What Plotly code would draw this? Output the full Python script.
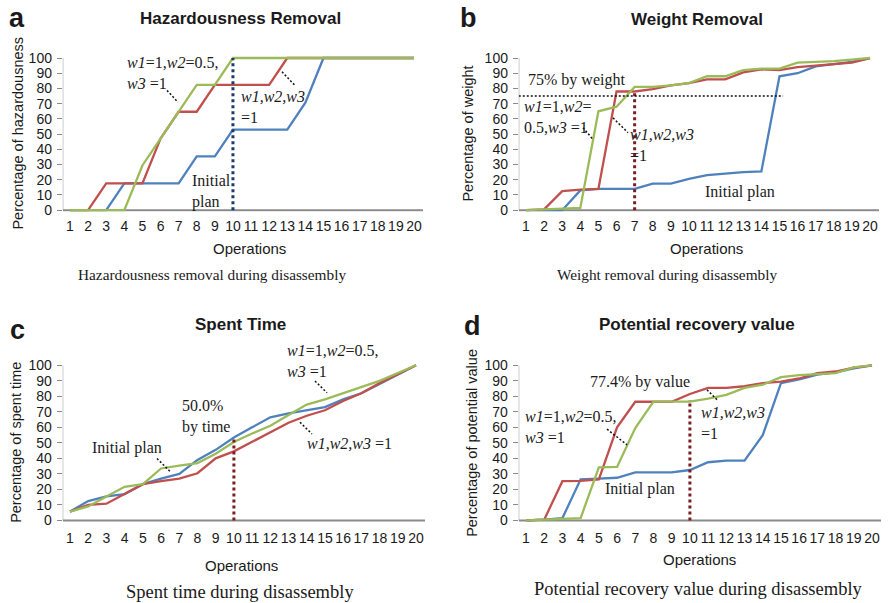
import plotly.graph_objects as go

# ---------------- data ----------------
operations = list(range(1, 21))
tick_text = [str(i) for i in operations]
y_ticks = list(range(0, 101, 10))

series_names = ["Initial plan", "w1,w2,w3 =1", "w1=1,w2=0.5,w3 =1"]

haz_initial = [0, 0, 0, 17.6, 17.6, 17.6, 17.6, 35.3, 35.3, 52.9, 52.9, 52.9, 52.9, 70.6, 100, 100, 100, 100, 100, 100]
haz_equal = [0, 0, 17.6, 17.6, 17.6, 47.1, 64.7, 64.7, 82.4, 82.4, 82.4, 82.4, 100, 100, 100, 100, 100, 100, 100, 100]
haz_weighted = [0, 0, 0, 0, 29.4, 47.1, 64.7, 82.4, 82.4, 100, 100, 100, 100, 100, 100, 100, 100, 100, 100, 100]

wt_initial = [0, 0, 0, 13, 14, 14, 14, 17.5, 17.5, 20.5, 23, 24, 25, 25.5, 88, 90, 94.5, 96, 97.5, 100]
wt_equal = [0, 0.5, 12.5, 13.5, 14, 78, 78, 79.5, 82, 83.5, 86, 86, 90.5, 92.5, 92, 94, 95, 96, 97, 100]
wt_weighted = [0, 0.5, 1, 1.5, 65, 68, 81, 81, 82, 83.5, 88, 88, 92, 93, 93, 97, 97.5, 98, 99, 100]

time_initial = [5.7, 12.5, 15.5, 17, 23.4, 27, 30, 39, 45.5, 53.5, 60, 66.5, 69, 71, 73, 78, 82, 88, 94, 100]
time_equal = [5.7, 10, 10.8, 17, 23.4, 25.3, 27, 30.4, 40, 44.5, 50.6, 57, 63, 67.5, 71, 77, 82, 88.5, 94.5, 100]
time_weighted = [5.7, 9, 15.5, 21.7, 23.4, 33.5, 35.4, 37, 43, 50.6, 56, 61, 68, 74.7, 78, 82, 86.5, 90, 95, 100]

val_initial = [0, 0.5, 1.5, 26.5, 27, 27.5, 31, 31, 31, 32.5, 37.5, 38.5, 38.5, 55, 88.5, 91, 94, 95.5, 98, 100]
val_equal = [0, 0.5, 25.3, 25.5, 26.5, 60, 76.5, 76.5, 76.5, 81.5, 85.5, 85.5, 86.5, 88.5, 89.5, 91.5, 95, 96, 98.5, 100]
val_weighted = [0, 0.5, 1, 1.5, 34.2, 34.5, 59.5, 76.6, 76.6, 76.6, 78.5, 81, 85.4, 87.5, 92.4, 93.7, 94.3, 95, 98.7, 100]

cutoff_ops = [10, 7, 10, 10]
cutoff_tops = [100, 78, 53, 77.4]
weight_threshold = 75
weight_threshold_end = 15.2

panel_titles = ["Hazardousness Removal", "Weight Removal", "Spent Time", "Potential recovery value"]
panel_letters = ["a", "b", "c", "d"]
y_titles = ["Percentage of hazardousness", "Percentage of weight",
            "Percentage of spent time", "Percentage of potential value"]
captions = ["Hazardousness removal during disassembly", "Weight removal during disassembly",
            "Spent time during disassembly", "Potential recovery value during disassembly"]

panel_data = [
    (haz_initial, haz_equal, haz_weighted),
    (wt_initial, wt_equal, wt_weighted),
    (time_initial, time_equal, time_weighted),
    (val_initial, val_equal, val_weighted),
]

# ---------------- layout geometry ----------------
W, H = 894, 603
colors = ["#4F81BD", "#C0504D", "#9BBB59"]
cutoff_colors = ["#1F3A6E", "#7A1E22", "#7A1E22", "#7A1E22"]
SANS = "Liberation Sans, Arial, sans-serif"
SERIF = "Liberation Serif, Times New Roman, serif"

XR = [0.6, 20.5]
YR = [-1, 102]

# pixel geometry: (px of op 1, px of op 20, px of y=0, px of y=100)
geo = [
    (70, 414, 209, 54),
    (526, 870, 209, 54),
    (70, 416, 525, 367),
    (526, 872, 525, 367),
]
xtick_standoff = [4, 4, 6, 6]


def fx(p):
    return p / W


def fy(p):
    return 1 - p / H


fig = go.Figure()
layout = dict(
    width=W, height=H,
    margin=dict(l=0, r=0, t=0, b=0),
    paper_bgcolor="white", plot_bgcolor="white",
    showlegend=False,
    font=dict(family=SANS, size=14, color="#1a1a1a"),
)
shapes = []
annotations = []

for i, (g, series) in enumerate(zip(geo, panel_data)):
    x1, x20, y0, y100 = g
    sx = (x20 - x1) / 19.0
    sy = (y100 - y0) / 100.0
    xl = x1 + (XR[0] - 1) * sx
    xr = x1 + (XR[1] - 1) * sx
    yb = y0 + YR[0] * sy
    yt = y0 + YR[1] * sy
    n = i + 1
    xa = "x" if n == 1 else f"x{n}"
    ya = "y" if n == 1 else f"y{n}"
    xkey = "xaxis" if n == 1 else f"xaxis{n}"
    ykey = "yaxis" if n == 1 else f"yaxis{n}"
    layout[xkey] = dict(
        domain=[fx(xl), fx(xr)], range=XR, anchor=ya,
        tickmode="array", tickvals=operations, ticktext=tick_text,
        showgrid=False, zeroline=False, showline=False, ticks="",
        ticklabelstandoff=xtick_standoff[i],
        tickfont=dict(family=SANS, size=14, color="#1a1a1a"),
    )
    layout[ykey] = dict(
        domain=[fy(yb), fy(yt)], range=YR, anchor=xa,
        tickmode="array", tickvals=y_ticks,
        showgrid=False, zeroline=False, showline=False,
        ticks="outside", ticklen=5, tickcolor="#8a8a8a", tickwidth=1,
        ticklabelstandoff=2,
        tickfont=dict(family=SANS, size=14, color="#1a1a1a"),
    )
    # axis lines
    shapes.append(dict(type="line", xref=xa, yref=ya, x0=XR[0], x1=XR[1], y0=0, y1=0,
                       line=dict(color="#8a8a8a", width=2), layer="below"))
    shapes.append(dict(type="line", xref=xa, yref=ya, x0=XR[0], x1=XR[0], y0=0, y1=100,
                       line=dict(color="#8a8a8a", width=1), layer="below"))
    for s, name, c in zip(series, series_names, colors):
        fig.add_trace(go.Scatter(x=operations, y=s, mode="lines", name=name,
                                 line=dict(color=c, width=2.3), xaxis=xa, yaxis=ya,
                                 hoverinfo="skip"))
    # cutoff vertical dotted line
    shapes.append(dict(type="line", xref=xa, yref=ya, x0=cutoff_ops[i], x1=cutoff_ops[i],
                       y0=0, y1=cutoff_tops[i],
                       line=dict(color=cutoff_colors[i], width=3, dash="dot")))

# threshold line panel b
shapes.append(dict(type="line", xref="x2", yref="y2", x0=XR[0], x1=weight_threshold_end,
                   y0=weight_threshold, y1=weight_threshold,
                   line=dict(color="#111111", width=1.5, dash="2px,2px")))


def text(x, y, s, size=16, family=SERIF, xanchor="left", yanchor="middle", bold=False, angle=0):
    annotations.append(dict(
        x=fx(x), y=fy(y), xref="paper", yref="paper", text=(f"<b>{s}</b>" if bold else s),
        showarrow=False, xanchor=xanchor, yanchor=yanchor, align="left",
        textangle=angle, font=dict(family=family, size=size, color="#1a1a1a"),
    ))


def leader(xa_, ya_, xb_, yb_):
    shapes.append(dict(type="line", xref="paper", yref="paper",
                       x0=fx(xa_), y0=fy(ya_), x1=fx(xb_), y1=fy(yb_),
                       line=dict(color="#111111", width=1.5, dash="2px,2px")))


# titles, letters, axis titles, captions
title_pos = [(240, 14), (697, 15), (240, 325), (697, 325)]
letter_pos = [(17, 13), (468, 13), (17, 331), (472, 327)]
ytitle_pos = [(18, 131), (468, 131), (16, 446), (472, 446)]
xtitle_pos = [(249, 248), (706, 248), (241, 571), (699, 565)]
caption_pos = [(212, 275), (667, 275), (240, 598), (698, 595)]
caption_size = [15.3, 15.3, 18.5, 18.5]
for i in range(4):
    text(*title_pos[i], panel_titles[i], size=17, family=SANS, xanchor="center", bold=True)
    text(*letter_pos[i], panel_letters[i], size=27, family=SANS, xanchor="center", bold=True)
    text(*ytitle_pos[i], y_titles[i], size=14.5, family=SANS, xanchor="center", angle=-90)
    text(*xtitle_pos[i], "Operations", size=15, family=SANS, xanchor="center")
    text(*caption_pos[i], captions[i], size=caption_size[i], family=SERIF, xanchor="center")

W2 = "<i>w1</i>=1,<i>w2</i>=0.5,<br><i>w3</i> =1"
EQ = "<i>w1,w2,w3</i><br>=1"
# panel a
text(125, 69, W2)
text(239, 104, EQ)
text(190, 189.5, "Initial<br>plan")
leader(167, 87, 178, 99)
leader(282, 68, 295, 82)
# panel b
text(526, 76, "75% by weight")
text(522, 114.5, "<i>w1</i>=1,<i>w2</i>=<br>0.5,<i>w3</i> =1")
text(628, 142.5, EQ)
text(703, 190, "Initial plan")
leader(583, 125, 593, 137)
leader(613, 115, 628, 130)
# panel c
text(180, 419.5, "50.0%<br>by time")
text(90, 451, "Initial plan")
text(285, 363, W2)
text(305, 447, "<i>w1,w2,w3</i> =1")
leader(157, 462, 170, 475)
leader(315, 383, 327, 395)
leader(300, 425, 312, 437)
# panel d
text(588, 384, "77.4% by value")
text(523, 429.5, W2)
text(603, 493, "Initial plan")
text(699, 426, EQ)
leader(607, 432, 627, 448)
leader(707, 392, 718, 403)

layout["shapes"] = shapes
layout["annotations"] = annotations
fig.update_layout(**layout)
fig.write_html("out.html", config={"displayModeBar": False},
               post_script="document.body.style.margin='0px';")
